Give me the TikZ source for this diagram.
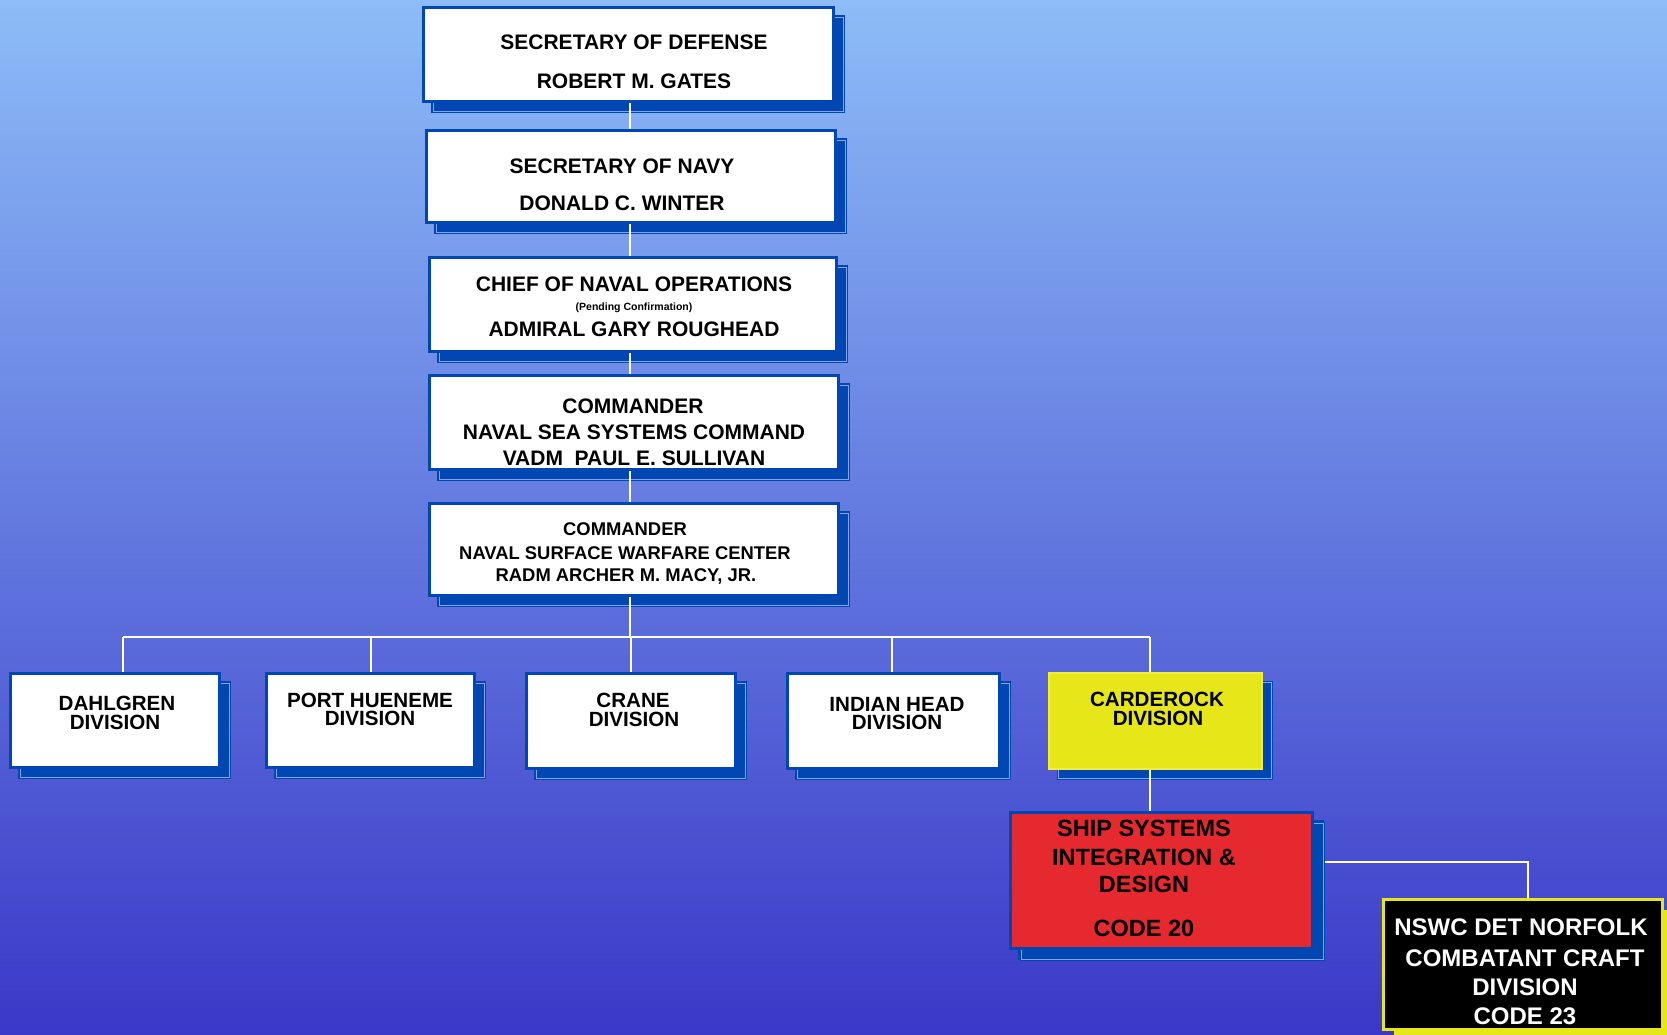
\documentclass[tikz,border=0pt]{standalone}
\usepackage{fontspec}
\setmainfont{Liberation Sans}
\usetikzlibrary{shadows}
\definecolor{bgtop}{RGB}{141,188,247}
\definecolor{bgbot}{RGB}{58,56,200}
\definecolor{boxblue}{RGB}{0,71,179}
\definecolor{shline}{RGB}{130,165,235}
\definecolor{yellowc}{RGB}{230,230,25}
\definecolor{yellowl}{RGB}{240,240,60}
\definecolor{redc}{RGB}{229,41,47}
\begin{document}
\begin{tikzpicture}[x=1pt,y=-1pt,
  shad/.style={general shadow={fill=boxblue, draw=boxblue, line width=1.5pt, double=shline, double distance=0.8pt, shadow xshift=#1pt, shadow yshift=-#1pt}},
  shad/.default=9.5,
  box/.style={draw=boxblue, line width=3pt, fill=white, inner sep=0pt, shad},
  conn/.style={draw=white, line width=2pt},
  t/.style={anchor=base, inner sep=0pt, font=\bfseries\fontsize{#1}{#1}\selectfont},
  t/.default=21]
\useasboundingbox (0,0) rectangle (1667,1035);
\clip (0,0) rectangle (1667,1035);
\shade[top color=bgtop, bottom color=bgbot] (0,0) rectangle (1667,1035);

% boxes
\node[box, minimum width=410pt, minimum height=94pt] (sd) at (628.5,54.5) {};
\node[box, minimum width=409pt, minimum height=92pt] (sn) at (631,176.5) {};
\node[box, minimum width=407pt, minimum height=94pt] (cno) at (633,304.5) {};
\node[box, minimum width=409pt, minimum height=94pt] (nsea) at (634,422.5) {};
\node[box, minimum width=409pt, minimum height=92pt] (nswc) at (634,549.5) {};
\node[box, minimum width=209pt, minimum height=94pt] (dahl) at (115,720.5) {};
\node[box, minimum width=208pt, minimum height=94pt] (ph) at (370.5,720.5) {};
\node[box, minimum width=209pt, minimum height=95pt] (crane) at (631,721) {};
\node[box, minimum width=212pt, minimum height=95pt] (ih) at (893.5,721) {};
\node[box, fill=yellowc, draw=yellowl, line width=1.5pt, minimum width=213pt, minimum height=96pt] (card) at (1155.5,721) {};
\node[box, fill=redc, shad=11, minimum width=302pt, minimum height=136pt] (ssid) at (1161.5,880.5) {};
\node[draw=yellowc, line width=3pt, fill=black, inner sep=0pt,
      general shadow={fill=yellowc, shadow xshift=10pt, shadow yshift=-10pt},
      minimum width=279pt, minimum height=130pt] (nor) at (1523,964.5) {};

% connectors
\coordinate (tr) at (630,0);
\coordinate (busL) at (123,637);
\coordinate (busR) at (1150,637);
\coordinate (jn) at (1528,862);
\draw[conn] (tr |- sd.south) -- (tr |- sn.north);
\draw[conn] (tr |- sn.south) -- (tr |- cno.north);
\draw[conn] (tr |- cno.south) -- (tr |- nsea.north);
\draw[conn] (tr |- nsea.south) -- (tr |- nswc.north);
\draw[conn] (tr |- nswc.south) -- (tr |- busL);
\draw[conn] (busL) -- (busR);
\draw[conn] (busL) -- (busL |- dahl.north);
\draw[conn] (ph.north |- busL) -- (ph.north);
\draw[conn] (crane.north |- busL) -- (crane.north);
\draw[conn] ([xshift=-1.5pt]ih.north |- busL) -- ([xshift=-1.5pt]ih.north);
\draw[conn] (busR) -- (busR |- card.north);
\draw[conn] (busR |- card.south) -- (busR |- ssid.north);
\draw[conn] ([xshift=11pt]ssid.east |- jn) -- (jn) -- (jn |- nor.north);

% texts
\node[t] (sd1) at (634,49.5) {SECRETARY OF DEFENSE};
\node[t] (sd2) at (634,88.5) {ROBERT M. GATES};
\node[t] (sn1) at (622,173.5) {SECRETARY OF NAVY};
\node[t] (sn2) at (622,210.5) {DONALD C. WINTER};
\node[t] (cno1) at (634,291.5) {CHIEF OF NAVAL OPERATIONS};
\node[t=10.5] (cno2) at (634,310.7) {(Pending Confirmation)};
\node[t] (cno3) at (634,336.5) {ADMIRAL GARY ROUGHEAD};
\node[t] (ns1) at (633,413.5) {COMMANDER};
\node[t] (ns2) at (634,439.5) {NAVAL SEA SYSTEMS COMMAND};
\node[t] (ns3) at (634,465.5) {VADM\ \ PAUL E. SULLIVAN};
\node[t=18.4] (nw1) at (625,535.6) {COMMANDER};
\node[t=18.4] (nw2) at (625,559.6) {NAVAL SURFACE WARFARE CENTER};
\node[t=18.4] (nw3) at (626,581.6) {RADM ARCHER M. MACY, JR.};
\node[t=20.6] (d1) at (117,710.4) {DAHLGREN};
\node[t=20.6] (d2) at (115,729.4) {DIVISION};
\node[t=20.6] (p1) at (370,707.4) {PORT HUENEME};
\node[t=20.6] (p2) at (370,725.4) {DIVISION};
\node[t=20.6] (c1) at (633,707.4) {CRANE};
\node[t=20.6] (c2) at (634,726.4) {DIVISION};
\node[t=20.6] (i1) at (897,711.4) {INDIAN HEAD};
\node[t=20.6] (i2) at (897,729.4) {DIVISION};
\node[t=20.6] (k1) at (1157,706.4) {CARDEROCK};
\node[t=20.6] (k2) at (1158,725.4) {DIVISION};
\node[t=23.5] (s1) at (1144,836.4) {SHIP SYSTEMS};
\node[t=23.5] (s2) at (1144,865.4) {INTEGRATION \&};
\node[t=23.5] (s3) at (1144,892.4) {DESIGN};
\node[t=23.5] (s4) at (1144,936.4) {CODE 20};
\node[t=24, text=white] (n1) at (1521,935.6) {NSWC DET NORFOLK};
\node[t=24, text=white] (n2) at (1525,966.6) {COMBATANT CRAFT};
\node[t=24, text=white] (n3) at (1525,995.6) {DIVISION};
\node[t=24, text=white] (n4) at (1525,1024.6) {CODE 23};
\end{tikzpicture}
\end{document}
